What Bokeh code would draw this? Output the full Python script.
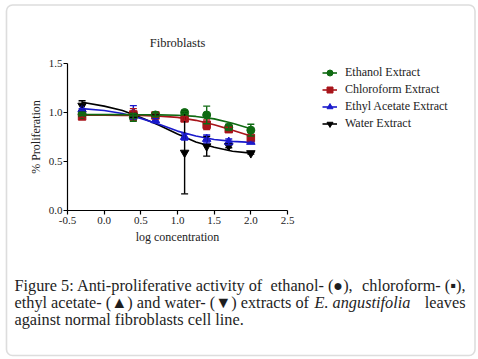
from bokeh.plotting import figure
from bokeh.models import (ColumnDataSource, Whisker, TeeHead, Legend, LegendItem,
                          Label, Range1d, FixedTicker, NumeralTickFormatter, BoxAnnotation)
from bokeh.embed import file_html
from bokeh.resources import INLINE

# ---------------- data ----------------
log_conc = [-0.301, 0.398, 0.699, 1.097, 1.398, 1.699, 2.0]

ethanol_mean = [0.98, 0.95, 0.975, 1.00, 0.975, 0.85, 0.82]
ethanol_err = [0.01, 0.04, 0.02, 0.01, 0.09, 0.03, 0.06]
chloro_mean = [0.96, 0.98, 0.97, 0.94, 0.875, 0.83, 0.74]
chloro_err = [0.01, 0.06, 0.02, 0.02, 0.05, 0.02, 0.02]
ethyl_mean = [1.03, 1.00, 0.92, 0.75, 0.73, 0.70, 0.70]
ethyl_err = [0.01, 0.07, 0.02, 0.03, 0.04, 0.03, 0.01]
water_mean = [1.07, 0.97, 0.96, 0.59, 0.655, 0.66, 0.585]
water_err = [0.05, 0.02, 0.02, 0.42, 0.10, 0.02, 0.01]

curve_x = [-0.301, 0.0, 0.25, 0.5, 0.75, 1.0, 1.25, 1.5, 1.75, 2.0]
ethanol_curve = [0.978, 0.978, 0.978, 0.977, 0.976, 0.972, 0.960, 0.935, 0.890, 0.835]
chloro_curve = [0.972, 0.972, 0.971, 0.969, 0.963, 0.950, 0.920, 0.875, 0.820, 0.760]
ethyl_curve = [1.040, 1.020, 0.990, 0.940, 0.880, 0.810, 0.760, 0.725, 0.705, 0.695]
water_curve = [1.105, 1.065, 1.020, 0.950, 0.870, 0.780, 0.700, 0.645, 0.605, 0.585]

series_names = ["Ethanol Extract", "Chloroform Extract", "Ethyl Acetate Extract", "Water Extract"]
x_ticks = [-0.5, 0.0, 0.5, 1.0, 1.5, 2.0, 2.5]
y_ticks = [0.0, 0.5, 1.0, 1.5]

chart_title = "Fibroblasts"
caption_line1a = "Figure 5: Anti-proliferative activity of"
caption_line1b = "ethanol- (\u25cf),"
caption_line1c = "chloroform- (\u25aa),"
caption_line2a = "ethyl acetate- (\u25b2) and water- (\u25bc) extracts of"
caption_line2b = "E. angustifolia"
caption_line2c = "leaves"
caption_line3 = "against normal fibroblasts cell line."

# ---------------- geometry (page pixels) ----------------
W, H = 478, 358
AX_L, AX_R = 67.0, 287.0     # pixels of x = -0.5 and x = 2.5
AX_B, AX_T = 210.0, 63.0     # pixels of y = 0 and y = 1.5
SX = (AX_R - AX_L) / 3.0
SY = (AX_B - AX_T) / 1.5

def dx(px):
    return -0.5 + (px - AX_L) / SX

def dy(py):
    return (AX_B - py) / SY

SERIF = "Liberation Serif"
TXT = "#222222"

p = figure(width=W, height=H, output_backend="svg", toolbar_location=None,
           x_range=Range1d(dx(0), dx(W)), y_range=Range1d(dy(H), dy(0)),
           min_border=0)
p.title.visible = False
p.outline_line_color = None
p.xgrid.visible = False
p.ygrid.visible = False

for ax in (p.xaxis[0], p.yaxis[0]):
    ax.axis_line_color = "black"
    ax.axis_line_width = 1.2
    ax.major_tick_line_color = "black"
    ax.major_tick_line_width = 1.2
    ax.major_tick_in = 0
    ax.major_tick_out = 4
    ax.minor_tick_line_color = None
    ax.major_label_text_font = SERIF
    ax.major_label_text_font_size = "11px"
    ax.major_label_text_color = TXT
    ax.axis_label_text_font = SERIF
    ax.axis_label_text_font_size = "12px"
    ax.axis_label_text_font_style = "normal"
    ax.axis_label_text_color = TXT

p.xaxis.fixed_location = 0.0
p.yaxis.fixed_location = -0.5
p.xaxis.bounds = (-0.5, 2.5)
p.yaxis.bounds = (0.0, 1.5)
p.xaxis.ticker = FixedTicker(ticks=x_ticks)
p.yaxis.ticker = FixedTicker(ticks=y_ticks)
p.xaxis.formatter = NumeralTickFormatter(format="0.0")
p.yaxis.formatter = NumeralTickFormatter(format="0.0")
p.xaxis.major_label_standoff = 2
p.yaxis.major_label_standoff = 1
p.xaxis.axis_label = "log concentration"
p.yaxis.axis_label = "% Proliferation"
p.xaxis.axis_label_standoff = 3
p.yaxis.axis_label_standoff = 3

colors = ["#0f6a12", "#a8141a", "#1a1acc", "#000000"]
markers = ["circle", "square", "triangle", "inverted_triangle"]
sizes = [8, 7.5, 8.5, 8.5]
means = [ethanol_mean, chloro_mean, ethyl_mean, water_mean]
errs = [ethanol_err, chloro_err, ethyl_err, water_err]
curves = [ethanol_curve, chloro_curve, ethyl_curve, water_curve]

items = {}
for i in [3, 2, 1, 0]:
    c = colors[i]
    src = ColumnDataSource(dict(
        x=log_conc, y=means[i],
        upper=[m + e for m, e in zip(means[i], errs[i])],
        lower=[m - e for m, e in zip(means[i], errs[i])]))
    lr = p.line(curve_x, curves[i], line_color=c, line_width=1.6)
    wk = Whisker(source=src, base="x", upper="upper", lower="lower",
                 line_color=c, line_width=1.4,
                 upper_head=TeeHead(size=7, line_color=c, line_width=1.4),
                 lower_head=TeeHead(size=7, line_color=c, line_width=1.4))
    wk.level = "glyph"
    p.add_layout(wk)
    sr = p.scatter("x", "y", source=src, marker=markers[i], size=sizes[i],
                   fill_color=c, line_color=c)
    items[i] = LegendItem(label=series_names[i], renderers=[lr, sr])

legend = Legend(items=[items[0], items[1], items[2], items[3]],
                location=(322, H - 131.5), orientation="vertical",
                background_fill_alpha=0, border_line_alpha=0,
                padding=0, margin=0, spacing=0,
                label_height=17, glyph_height=17, glyph_width=15,
                label_standoff=8,
                label_text_font=SERIF, label_text_font_size="12px",
                label_text_color=TXT)
p.add_layout(legend, "center")

# chart title
p.add_layout(Label(x=dx(177), y=dy(42), text=chart_title, text_align="center",
                   text_baseline="middle", text_font=SERIF, text_font_size="12.5px",
                   text_color=TXT))

# caption
cap_font = "16.3px"
cap_col = "#1e1e1e"
def cap(px, py, txt, style="normal", align="left"):
    p.add_layout(Label(x=dx(px), y=dy(py), text=txt, text_align=align,
                       text_baseline="alphabetic", text_font=SERIF,
                       text_font_size=cap_font, text_font_style=style,
                       text_color=cap_col))

cap(14, 284.5, caption_line1a)
cap(270, 284.5, caption_line1b)
cap(465, 284.5, caption_line1c, align="right")
cap(14, 301.5, caption_line2a)
cap(314, 301.5, caption_line2b, "italic")
cap(465, 301.5, caption_line2c, align="right")
cap(14, 318.5, caption_line3)

# rounded outer frame
try:
    box = BoxAnnotation(left=dx(6), right=dx(474.5), top=dy(4.5), bottom=dy(355),
                        fill_alpha=0, line_color="#8e8e8e", line_width=1.6,
                        border_radius=6)
except Exception:
    box = BoxAnnotation(left=dx(6), right=dx(474.5), top=dy(4.5), bottom=dy(355),
                        fill_alpha=0, line_color="#8e8e8e", line_width=1.6)
p.add_layout(box)

open("out.html", "w").write(file_html(p, INLINE))
